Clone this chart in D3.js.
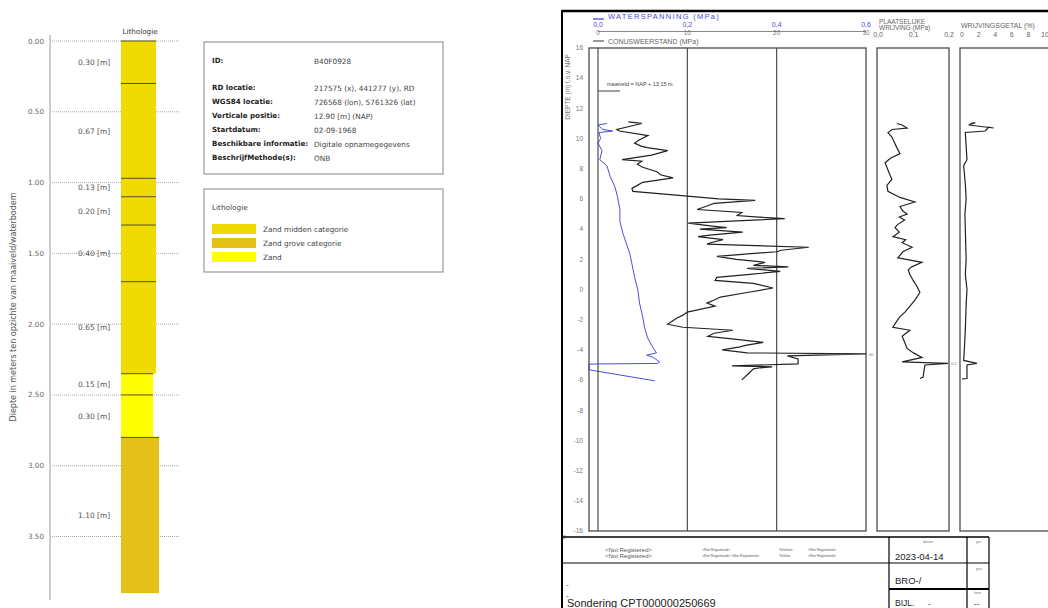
<!DOCTYPE html>
<html><head><meta charset="utf-8">
<script src="https://cdn.jsdelivr.net/npm/d3@7"></script>
<style>body{margin:0;background:#fff}svg{display:block}</style>
</head><body>
<svg id="c" width="1048" height="608"></svg>
<script>
// ---------- Boring (left) ----------
const layerThickness = [0.30, 0.67, 0.13, 0.20, 0.40, 0.65, 0.15, 0.30, 1.10];
const layerSoil = ["midden","midden","midden","midden","midden","midden","zand","zand","grove"];
const depthTicks = [0, 0.5, 1.0, 1.5, 2.0, 2.5, 3.0, 3.5];
const soilNames = ["Zand midden categorie","Zand grove categorie","Zand"];
const soilKeys = ["midden","grove","zand"];
const infoLabels = ["ID:","RD locatie:","WGS84 locatie:","Verticale positie:","Startdatum:","Beschikbare informatie:","BeschrijfMethode(s):"];
const infoValues = ["B40F0928","217575 (x), 441277 (y), RD","726568 (lon), 5761326 (lat)","12.90 [m] (NAP)","02-09-1968","Digitale opnamegegevens","ONB"];

// ---------- Sondering (right) ----------
const napTicks = [16,14,12,10,8,6,4,2,0,-2,-4,-6,-8,-10,-12,-14,-16];
const uTicks = [0,0.2,0.4,0.6];
const qcTicks = [0,10,20,30];
const fsTicks = [0,0.1,0.2];
const rfTicks = [0,2,4,6,8,10];
const qcDepth = [11.1,11.0,10.6,10.5,10.2,9.9,9.7,9.5,9.4,9.2,8.9,8.6,8.5,8.3,8.1,7.8,7.6,7.4,7.1,6.9,6.7,6.5,6.2,6.0,5.9,5.7,5.6,5.3,5.1,4.9,4.8,4.7,4.4,4.2,4.1,4.0,3.8,3.6,3.5,3.3,3.1,3.0,2.8,2.6,2.5,2.2,2.0,1.8,1.6,1.5,1.4,1.2,1.0,0.8,0.6,0.4,0.1,-0.2,-0.5,-0.7,-0.9,-1.1,-1.5,-1.7,-1.9,-2.3,-2.5,-2.7,-2.9,-3.1,-3.3,-3.5,-3.7,-3.8,-4.0,-4.2,-4.26,-4.4,-4.6,-4.93,-5.06,-5.13,-5.2,-5.26,-5.6,-5.99];
const qcValue = [3.4,4.9,2.1,2.4,5.6,4.6,4.1,4.8,5.5,7.8,6.0,2.7,4.9,4.4,5.0,6.6,7.0,8.4,5.0,4.4,3.8,3.9,9.7,13.5,17.6,13.0,12.5,11.1,16.1,15.6,18.0,20.9,10.1,12.8,14.4,11.4,16.2,12.5,11.2,14.0,12.6,12.2,23.6,20.5,20.0,13.3,15.5,18.7,17.4,21.3,16.7,20.4,17.0,13.3,13.1,17.4,19.6,16.7,13.7,13.0,12.2,13.1,10.0,9.5,8.8,7.8,9.5,15.1,13.0,12.3,15.5,18.5,16.5,15.9,13.9,16.7,30,21.2,22.4,22.4,15.0,19.5,18.0,17.4,16.8,16.1];
const uDepth = [11.0,10.9,10.6,10.5,10.4,10.0,9.7,9.2,8.6,8.2,7.5,6.8,6.1,5.3,4.5,3.7,3.0,2.4,1.7,0.8,0.0,-0.9,-1.8,-2.5,-3.2,-3.8,-4.2,-4.35,-4.5,-4.8,-4.9,-4.93,-4.95,-5.32,-6.05];
const uValue = [0.020,0.000,0.011,0.033,0.002,0.006,0.000,0.009,0.004,0.020,0.027,0.038,0.044,0.049,0.049,0.056,0.064,0.071,0.076,0.082,0.089,0.093,0.100,0.104,0.111,0.122,0.131,0.109,0.124,0.138,0.133,0.005,-0.020,-0.020,0.127];
const fsDepth = [11.0,10.9,10.7,10.6,10.4,10.1,9.7,9.4,9.0,8.7,8.4,7.8,7.3,6.9,6.5,6.1,5.8,5.5,5.2,5.0,4.8,4.6,4.3,4.1,3.8,3.5,3.3,3.1,2.8,2.5,2.1,1.8,1.5,1.3,1.0,0.6,0.2,-0.2,-0.7,-1.1,-1.5,-1.8,-2.2,-2.5,-2.7,-3.1,-3.5,-3.9,-4.2,-4.5,-4.8,-4.9,-5.0,-5.8,-5.9];
const fsValue = [0.053,0.068,0.082,0.040,0.028,0.039,0.047,0.053,0.062,0.035,0.020,0.030,0.039,0.025,0.028,0.062,0.104,0.062,0.070,0.082,0.060,0.075,0.055,0.048,0.060,0.042,0.078,0.068,0.096,0.070,0.056,0.124,0.095,0.085,0.090,0.099,0.110,0.118,0.104,0.090,0.076,0.062,0.050,0.042,0.090,0.068,0.075,0.082,0.100,0.124,0.068,0.197,0.132,0.127,0.118];
const rfDepth = [11.0,11.05,10.9,10.7,10.75,10.5,10.4,9.5,8.6,8.2,7.0,6.0,5.0,4.0,3.0,2.0,1.0,0.0,-1.0,-2.7,-3.8,-4.7,-4.9,-5.0,-5.9,-5.92];
const rfValue = [1.0,1.6,0.8,3.8,3.2,2.8,0.4,0.5,0.6,0.2,0.4,0.5,0.35,0.4,0.45,0.5,0.4,0.6,0.5,0.4,0.3,0.2,1.8,0.6,0.6,0.0];

const svg = d3.select("#c");
const FONT = "'DejaVu Sans', Verdana, sans-serif";
const AR = "'Liberation Sans', Arial, sans-serif";
const soilColor = {midden:"#efdb00", grove:"#e4c118", zand:"#ffff00"};
const soilWidth = {midden:35, zand:32, grove:38};

// ---- left panel
const yL = d3.scaleLinear().domain([0,3.5]).range([41,536.5]);
const gL = svg.append("g");
gL.append("line").attr("x1",50).attr("x2",50).attr("y1",35).attr("y2",600).attr("stroke","#999");
gL.selectAll("line.grid").data(depthTicks).join("line").attr("class","grid")
  .attr("x1",52).attr("x2",180).attr("y1",d=>yL(d)).attr("y2",d=>yL(d))
  .attr("stroke","#aaa").attr("stroke-dasharray","1,1");
gL.selectAll("text.tick").data(depthTicks).join("text").attr("class","tick")
  .attr("x",44).attr("y",d=>yL(d)).attr("dy","0.35em").attr("text-anchor","end")
  .attr("font-family",FONT).attr("font-size",7.2).attr("fill","#666").text(d=>d3.format(".2f")(d));
gL.append("text").attr("transform","translate(16,307) rotate(-90)").attr("text-anchor","middle")
  .attr("font-family",FONT).attr("font-size",8).attr("fill","#555")
  .text("Diepte in meters ten opzichte van maaiveld/waterbodem");
gL.append("text").attr("x",140).attr("y",34).attr("text-anchor","middle")
  .attr("font-family",FONT).attr("font-size",7.2).attr("fill","#333").text("Lithologie");
let acc = 0;
const layers = layerThickness.map((t,i)=>{const l={top:acc,bot:acc+t,t,soil:layerSoil[i]}; acc+=t; return l;});
gL.selectAll("rect.layer").data(layers).join("rect").attr("class","layer")
  .attr("x",121).attr("y",d=>yL(d.top)).attr("width",d=>soilWidth[d.soil])
  .attr("height",d=>yL(d.bot)-yL(d.top)).attr("fill",d=>soilColor[d.soil]);
gL.selectAll("line.bnd").data(layers).join("line").attr("class","bnd")
  .attr("x1",121).attr("x2",d=>121+soilWidth[d.soil]).attr("y1",d=>yL(d.top)).attr("y2",d=>yL(d.top))
  .attr("stroke","#55501e").attr("stroke-width",1);
gL.selectAll("text.thk").data(layers).join("text").attr("class","thk")
  .attr("x",78).attr("y",d=>yL((d.top+d.bot)/2)).attr("dy","0.35em")
  .attr("font-family",FONT).attr("font-size",7.5).attr("fill","#555")
  .text(d=>d3.format(".2f")(d.t)+" [m]");

// info box
svg.append("rect").attr("x",204).attr("y",42).attr("width",239).attr("height",132)
  .attr("fill","#fff").attr("stroke","#999").attr("stroke-width",1.2);
const infoY = [61,88,102,116,130,144,158];
svg.selectAll("text.il").data(infoLabels).join("text").attr("class","il")
  .attr("x",212).attr("y",(d,i)=>infoY[i]).attr("dy","0.35em").attr("font-family",FONT)
  .attr("font-size",7.1).attr("font-weight","bold").attr("fill","#222").text(d=>d);
svg.selectAll("text.iv").data(infoValues).join("text").attr("class","iv")
  .attr("x",314).attr("y",(d,i)=>infoY[i]).attr("dy","0.35em").attr("font-family",FONT)
  .attr("font-size",7.3).attr("fill","#444").text(d=>d);
// legend box
svg.append("rect").attr("x",204).attr("y",189).attr("width",239).attr("height",83)
  .attr("fill","#fff").attr("stroke","#999").attr("stroke-width",1.2);
svg.append("text").attr("x",212).attr("y",207).attr("dy","0.35em").attr("font-family",FONT)
  .attr("font-size",7.3).attr("fill","#444").text("Lithologie");
svg.selectAll("rect.sw").data(soilKeys).join("rect").attr("class","sw")
  .attr("x",212).attr("y",(d,i)=>224+i*14).attr("width",44).attr("height",10).attr("fill",d=>soilColor[d]);
svg.selectAll("text.sl").data(soilNames).join("text").attr("class","sl")
  .attr("x",263).attr("y",(d,i)=>229+i*14).attr("dy","0.35em").attr("font-family",FONT)
  .attr("font-size",7.3).attr("fill","#444").text(d=>d);

// ---- right panel (CPT sheet)
const gR = svg.append("g");
const yN = d3.scaleLinear().domain([16,-16]).range([48,531]);
const xQ = d3.scaleLinear().domain([0,30]).range([598,866]);
const xU = d3.scaleLinear().domain([0,0.6]).range([598,866]);
const xF = d3.scaleLinear().domain([0,0.2]).range([878,949]);
const xR = d3.scaleLinear().domain([0,10]).range([962,1045]);
const comma = v=>d3.format(".1f")(v).replace(".",",");

// sheet border
gR.append("line").attr("x1",562).attr("x2",1048).attr("y1",11).attr("y2",11).attr("stroke","#000").attr("stroke-width",2.5);
gR.append("line").attr("x1",562).attr("x2",562).attr("y1",10).attr("y2",608).attr("stroke","#000").attr("stroke-width",2);

// headers
gR.append("line").attr("x1",593).attr("x2",604).attr("y1",19).attr("y2",19).attr("stroke","#3a3ad0").attr("stroke-width",1.2);
gR.append("text").attr("x",608).attr("y",19).attr("font-family",AR).attr("font-size",7.5).attr("letter-spacing",1.3).attr("fill","#4a4ad8").text("WATERSPANNING (MPa)");
gR.selectAll("text.ut").data(uTicks).join("text").attr("class","ut")
  .attr("x",d=>xU(d)).attr("y",27).attr("text-anchor","middle").attr("font-family",AR)
  .attr("font-size",7).attr("fill","#4a4ad8").text(d=>comma(d));
gR.append("line").attr("x1",598).attr("x2",866).attr("y1",31.5).attr("y2",31.5).attr("stroke","#888");
gR.selectAll("text.qt").data(qcTicks).join("text").attr("class","qt")
  .attr("x",d=>xQ(d)).attr("y",35).attr("text-anchor","middle").attr("font-family",AR)
  .attr("font-size",6.5).attr("fill","#777").text(d=>d);
gR.append("line").attr("x1",593).attr("x2",604).attr("y1",41).attr("y2",41).attr("stroke","#555").attr("stroke-width",1.2);
gR.append("text").attr("x",608).attr("y",44).attr("font-family",AR).attr("font-size",7).attr("fill","#666").text("CONUSWEERSTAND (MPa)");
gR.append("text").attr("x",879).attr("y",24).attr("font-family",AR).attr("font-size",6.5).attr("fill","#666").text("PLAATSELIJKE");
gR.append("text").attr("x",879).attr("y",30).attr("font-family",AR).attr("font-size",6.5).attr("fill","#666").text("WRIJVING (MPa)");
gR.selectAll("text.ft").data(fsTicks).join("text").attr("class","ft")
  .attr("x",d=>xF(d)).attr("y",37).attr("text-anchor","middle").attr("font-family",AR)
  .attr("font-size",7).attr("fill","#666").text(d=>comma(d));
gR.append("text").attr("x",961).attr("y",28).attr("font-family",AR).attr("font-size",7).attr("fill","#666").text("WRIJVINGSGETAL (%)");
gR.selectAll("text.rt").data(rfTicks).join("text").attr("class","rt")
  .attr("x",d=>xR(d)).attr("y",37).attr("text-anchor","middle").attr("font-family",AR)
  .attr("font-size",7).attr("fill","#666").text(d=>d);

// y axis
gR.selectAll("text.nt").data(napTicks).join("text").attr("class","nt")
  .attr("x",583).attr("y",d=>yN(d)).attr("dy","0.35em").attr("text-anchor","end")
  .attr("font-family",AR).attr("font-size",6.5).attr("fill","#777").text(d=>d);
gR.append("text").attr("transform","translate(570,87) rotate(-90)").attr("text-anchor","middle")
  .attr("font-family",AR).attr("font-size",6.5).attr("fill","#777").text("DIEPTE (m) t.o.v. NAP");
gR.append("text").attr("x",563).attr("y",539).attr("font-family",AR).attr("font-size",5).attr("fill","#777").text("0");

// frames
const fr = "#4a4a4a";
gR.append("rect").attr("x",589).attr("y",yN(16)).attr("width",866-589).attr("height",yN(-16)-yN(16)).attr("fill","none").attr("stroke",fr).attr("stroke-width",1.3);
gR.selectAll("line.qv").data(qcTicks.slice(0,3)).join("line").attr("class","qv")
  .attr("x1",d=>xQ(d)).attr("x2",d=>xQ(d)).attr("y1",yN(16)).attr("y2",yN(-16)).attr("stroke",fr).attr("stroke-width",1.2);
gR.append("rect").attr("x",xF(0)-1).attr("y",yN(16)).attr("width",xF(0.2)-xF(0)+1).attr("height",yN(-16)-yN(16)).attr("fill","none").attr("stroke",fr).attr("stroke-width",1.3);
gR.append("rect").attr("x",960).attr("y",yN(16)).attr("width",120).attr("height",yN(-16)-yN(16)).attr("fill","none").attr("stroke",fr).attr("stroke-width",1.3);

// maaiveld
gR.append("line").attr("x1",xQ(0)).attr("x2",620).attr("y1",yN(13.15)).attr("y2",yN(13.15)).attr("stroke","#444");
gR.append("text").attr("x",607).attr("y",yN(13.15)-5).attr("font-family",AR).attr("font-size",5.5).attr("fill","#444").text("maaiveld = NAP + 13,15 m");

// curves
const line = (xs, depth, vals)=>d3.line().x((d,i)=>xs(vals[i])).y((d,i)=>yN(depth[i]))(depth);
gR.append("path").attr("d",line(xU,uDepth,uValue)).attr("fill","none").attr("stroke","#3838d8").attr("stroke-width",0.9);
gR.append("path").attr("d",line(xQ,qcDepth,qcValue)).attr("fill","none").attr("stroke","#222").attr("stroke-width",1.2);
gR.append("path").attr("d",line(xF,fsDepth,fsValue)).attr("fill","none").attr("stroke","#222").attr("stroke-width",1.2);
gR.append("path").attr("d",line(xR,rfDepth,rfValue)).attr("fill","none").attr("stroke","#222").attr("stroke-width",1.2);
gR.append("text").attr("x",869).attr("y",yN(-4.26)+2).attr("font-family",AR).attr("font-size",4).attr("fill","#777").text("40");
gR.append("text").attr("x",951).attr("y",yN(-4.9)+2).attr("font-family",AR).attr("font-size",4).attr("fill","#777").text("0,2");

// title block
const tb = gR.append("g").attr("stroke","#000");
tb.append("line").attr("x1",562).attr("x2",989).attr("y1",537).attr("y2",537).attr("stroke-width",1.5);
tb.append("line").attr("x1",562).attr("x2",989).attr("y1",563).attr("y2",563).attr("stroke-width",1.2);
tb.append("line").attr("x1",889).attr("x2",989).attr("y1",589).attr("y2",589).attr("stroke-width",1.8);
[889,967,989].forEach(x=>tb.append("line").attr("x1",x).attr("x2",x).attr("y1",537).attr("y2",608).attr("stroke-width",1.2));
const T = (x,y,s,t,c="#222",a="start")=>gR.append("text").attr("x",x).attr("y",y).attr("font-family",AR).attr("font-size",s).attr("fill",c).attr("text-anchor",a).text(t);
T(605,552,6,"<Not Registered>","#555");
T(605,558,6,"<Not Registered>","#555");
T(702,551,3.6,"<Not Registered>","#555");
T(702,557,3.6,"<Not Registered> <Not Registered>","#555");
T(779,551,3.6,"Telefoon","#555");
T(779,557,3.6,"Telefax","#555");
T(808,551,3.6,"<Not Registered>","#555");
T(808,557,3.6,"<Not Registered>","#555");
T(928,543,3.5,"datum","#777","middle");
T(976,543,3.5,"get.","#777");
T(976,570,3.5,"gez.","#777");
T(974,594,3.5,"form.","#777");
T(895,560,9.5,"2023-04-14");
T(895,584,9.5,"BRO-/");
T(895,606,8.5,"BIJL.");
T(928,606,8,"-");
T(974,606,8,"--");
T(566,587,8,"-","#444");
T(566,598,8,"-","#444");
T(567,607,11,"Sondering CPT000000250669");
</script>
</body></html>
